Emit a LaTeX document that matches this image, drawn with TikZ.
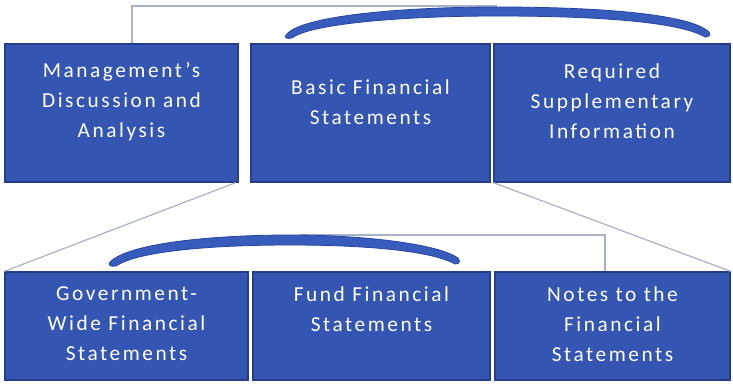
\documentclass[tikz,border=0pt]{standalone}
\usepackage{fontspec}
\setmainfont{Carlito}[LetterSpace=12]
\begin{document}
\begin{tikzpicture}[x=0.75pt,y=-0.75pt,
  box/.style={draw=boxedge,line width=1pt,fill=boxblue,inner sep=0pt},
  lbl/.style={text=white,align=center,font=\fontsize{16}{22.5}\selectfont,inner sep=0pt},
  link/.style={draw=linkgray,line width=0.9pt},
  arcfill/.style={fill=arcblue,draw=arcedge,line width=0.6pt}]
\definecolor{boxblue}{RGB}{52,86,178}
\definecolor{boxedge}{RGB}{36,62,140}
\definecolor{linkgray}{RGB}{168,178,200}
\definecolor{arcblue}{RGB}{56,92,188}
\definecolor{arcedge}{RGB}{40,70,160}
\useasboundingbox (0,0) rectangle (733,383);
\fill[white] (0,0) rectangle (733,383);
% top boxes
\node[box,minimum width=0.75*233pt,minimum height=0.75*138pt] (m) at (121.5,113) {};
\node[box,minimum width=0.75*239pt,minimum height=0.75*138pt] (b) at (370.5,113) {};
\node[box,minimum width=0.75*236pt,minimum height=0.75*138pt] (r) at (612,113) {};
% bottom boxes
\node[box,minimum width=0.75*243pt,minimum height=0.75*108pt] (g) at (126.5,326) {};
\node[box,minimum width=0.75*237pt,minimum height=0.75*108pt] (f) at (371.5,326) {};
\node[box,minimum width=0.75*235pt,minimum height=0.75*108pt] (n) at (612.5,326) {};
% texts
\node[lbl] (tm) at (121.5,102) {Management's\\Discussion and\\Analysis};
\node[lbl] (tb) at (370.5,102) {Basic Financial\\Statements};
\node[lbl] (tr) at (612,101) {Required\\Supplementary\\Information};
\node[lbl,anchor=north] (tg) at (126.5,286) {Government-\\Wide Financial\\Statements};
\node[lbl,anchor=north] (tf) at (371.5,286) {Fund Financial\\Statements};
\node[lbl,anchor=north] (tn) at (612.5,286) {Notes to the\\Financial\\Statements};
% connector coordinates
\coordinate (topc) at (497,6);
\coordinate (botc) at (300,235);
% top connector
\draw[link] (m.north -| 132,0) |- (topc);
% top arc
\path[arcfill] (286,35) .. controls (300,16) and (400,7) .. (497,7)
  .. controls (600,7) and (690,14) .. (709,32)
  .. controls (711,35) and (709,37) .. (705,37)
  .. controls (680,22) and (600,16) .. (497,16)
  .. controls (400,16) and (310,24) .. (292,38)
  .. controls (287,39) and (284,38) .. (286,35) -- cycle;
% diagonals
\draw[link] (m.south east) ++(-3,0) coordinate (d1) -- (g.north west);
\draw[link] (r.south west) -- (n.north east);
% bottom connector
\draw[link] (botc) -| (n.north -| 605,0);
% bottom arc
\path[arcfill] (110,262) .. controls (130,242) and (220,235) .. (290,235)
  .. controls (370,235) and (440,245) .. (458,258)
  .. controls (461,262) and (459,264) .. (455,264)
  .. controls (430,250) and (360,245) .. (290,245)
  .. controls (220,245) and (140,250) .. (116,266)
  .. controls (110,267) and (108,265) .. (110,262) -- cycle;
\end{tikzpicture}
\end{document}
